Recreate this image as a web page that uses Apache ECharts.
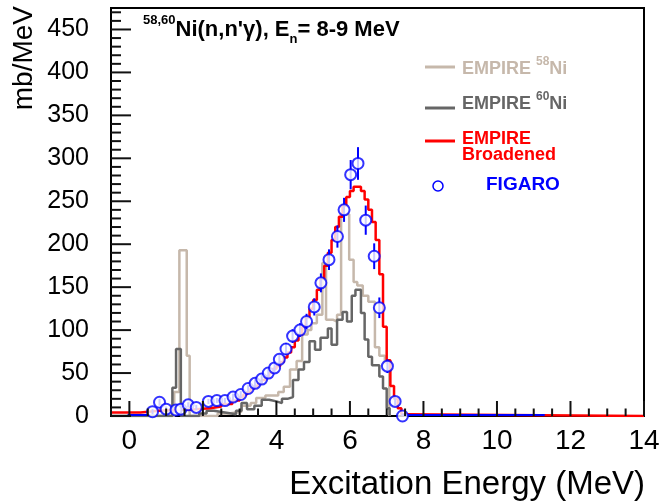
<!DOCTYPE html>
<html>
<head>
<meta charset="utf-8">
<script src="https://cdn.jsdelivr.net/npm/echarts@6/dist/echarts.min.js"></script>
<style>
  html, body { margin: 0; padding: 0; background: #fff; }
  #main { width: 664px; height: 501px; }
</style>
</head>
<body>
<div id="main"></div>
<script>
// EMPIRE 58Ni : bin lower edge (MeV) / mb/MeV
let ni58E = [-0.5, 1.22, 1.36, 1.56, 1.64, 2.4, 2.7, 3.05, 3.3, 3.45,
  3.7, 4.05, 4.2, 4.37, 4.55, 4.7, 4.85, 4.95, 5.1, 5.25,
  5.35, 5.55, 5.65, 5.76, 5.98, 6.1, 6.2, 6.35, 6.5, 6.68,
  6.8, 6.95, 7.07]
let ni58V = [0, 28, 193, 70, 0, 3, 5, 12, 15, 21,
  24, 28, 34, 54, 64, 95, 100, 108, 118, 178,
  112, 110, 118, 235, 182, 156, 152, 140, 133, 80,
  70, 62, 0]

// EMPIRE 60Ni
let ni60E = [-0.5, 1.17, 1.27, 1.4, 1.9, 2.1, 2.3, 2.6, 2.9, 3.05,
  3.2, 3.4, 3.6, 3.8, 4.0, 4.15, 4.3, 4.45, 4.6, 4.75,
  4.9, 5.05, 5.2, 5.4, 5.5, 5.65, 5.8, 5.92, 6.05, 6.15,
  6.3, 6.4, 6.5, 6.6, 6.8, 6.9, 7.0, 7.08]
let ni60V = [0, 33, 78, 0, 3, 6, 4, 2, 6, 15,
  8, 12, 19, 17, 15, 20, 22, 42, 54, 63,
  87, 77, 91, 102, 83, 112, 121, 110, 140, 147,
  120, 89, 69, 59, 46, 32, 9, 0]

// EMPIRE broadened
let broadE = [-0.5, 0.3, 0.8, 1.3, 1.8, 2.2, 2.5, 2.8,
  3.0, 3.1, 3.2, 3.3, 3.4, 3.5, 3.6, 3.7, 3.8, 3.9,
  4.0, 4.1, 4.2, 4.3, 4.4, 4.5, 4.6, 4.7, 4.8, 4.9,
  5.0, 5.1, 5.2, 5.3, 5.4, 5.5, 5.6, 5.7, 5.8, 5.9,
  6.0, 6.1, 6.2, 6.3, 6.4, 6.5, 6.6, 6.7, 6.8, 6.9,
  7.0, 7.1, 7.2, 7.3, 7.4, 7.5, 14]
let broadV = [4, 6, 7, 8, 9, 11, 14, 18,
  22, 25, 28, 32, 35, 38, 42, 46, 50, 55,
  58, 63, 68, 74, 80, 88, 95, 104, 115, 125,
  135, 147, 160, 175, 190, 205, 220, 232, 245, 255,
  262, 267, 267, 262, 252, 240, 226, 205, 165, 104,
  65, 35, 20, 9, 2, 0, 0]

// FIGARO points
let figE = [0.63, 0.82, 1.0, 1.27, 1.4, 1.6, 1.82, 2.15, 2.38, 2.6,
  2.82, 3.03, 3.23, 3.42, 3.6, 3.78, 3.95, 4.08, 4.26, 4.44,
  4.64, 4.82, 5.03, 5.21, 5.43, 5.66, 5.84, 6.02, 6.22, 6.43,
  6.66, 6.8, 7.02, 7.23, 7.43]
let figV = [5, 16, 8, 7, 8, 13, 10, 17, 18, 18,
  22, 25, 32, 38, 43, 50, 56, 66, 78, 93,
  100, 110, 127, 155, 182, 209, 240, 281, 294, 228,
  186, 126, 58, 17, 0]
let figErr = [3, 4, 3, 3, 3, 3, 3, 3, 3, 3,
  4, 4, 4, 5, 5, 5, 6, 6, 7, 8,
  8, 9, 10, 11, 12, 13, 14, 17, 19, 17,
  15, 12, 8, 5, 3]
// zero-valued FIGARO bins: [from, to] in MeV
let figZeroFrom = [-0.05, 7.45]
let figZeroTo = [0.55, 11.3]

// tick labels
let xMajor = [0, 2, 4, 6, 8, 10, 12, 14]
let yMajor = [0, 50, 100, 150, 200, 250, 300, 350, 400, 450]

const FONT = 'Liberation Sans'
const BEIGE = '#c6b8ab'
const GREY = '#666666'
const TICK = '#111111'

function steps (edges, vals) {
  let d = []
  for (let i = 0; i < edges.length; i++) {
    d.push([edges[i], vals[i]])
  }
  return d
}

var myChart = echarts.init(document.getElementById('main'))

let grid = {
  left: 111, right: 20, top: 8, bottom: 85,
  show: true, borderColor: '#000', borderWidth: 2
}
let xAxis = {
  type: 'value', min: -0.5, max: 14,
  axisLine: { show: false, onZero: false },
  axisTick: { show: false }, axisLabel: { show: false }, splitLine: { show: false }
}
let yAxis = {
  type: 'value', min: 0, max: 475,
  axisLine: { show: false, onZero: false },
  axisTick: { show: false }, axisLabel: { show: false }, splitLine: { show: false }
}

// axes only first, so the scales can be used to place ticks and labels
myChart.setOption({ animation: false, grid: grid, xAxis: xAxis, yAxis: yAxis })

function px (x, y) {
  return myChart.convertToPixel({ gridIndex: 0 }, [x, y])
}

let axisEls = []
// ticks as thin filled rects
function vtick (x, y, len) {
  axisEls.push({ type: 'rect', z: 50, shape: { x: x - 1, y: y - len, width: 2, height: len }, style: { fill: TICK } })
}
function htick (x, y, len) {
  axisEls.push({ type: 'rect', z: 50, shape: { x: x, y: y - 1, width: len, height: 2 }, style: { fill: TICK } })
}
xMajor.forEach((v) => {
  let p = px(v, 0)
  vtick(p[0], p[1], 15)
  axisEls.push({
    type: 'text', x: p[0], y: p[1] + 25,
    style: { text: String(v), fill: '#000', font: '28px "Liberation Sans"', align: 'center', verticalAlign: 'middle' }
  })
  // minor ticks every 0.5 MeV
  ;[-0.5, 0.5, 1, 1.5].forEach((k) => {
    let m = v + k
    if (m >= -0.5 && m < 14 && !(v > 0 && k < 0)) {
      let q = px(m, 0)
      vtick(q[0], q[1], 7.5)
    }
  })
})
yMajor.forEach((v) => {
  let p = px(-0.5, v)
  htick(p[0], p[1], 20)
  axisEls.push({
    type: 'text', x: p[0] - 22, y: p[1],
    style: { text: String(v), fill: '#000', font: '25px "Liberation Sans"', align: 'right', verticalAlign: 'middle' }
  })
  // minor ticks every 10
  ;[10, 20, 30, 40].forEach((k) => {
    if (v + k < 475) {
      let q = px(-0.5, v + k)
      htick(q[0], q[1], 10)
    }
  })
})

let figData = figE.map((e, i) => [e, figV[i], figErr[i]])
let zeroData = figZeroFrom.map((a, i) => [a, 0, figZeroTo[i]])

let graphics = [
  // title
  {
    type: 'text', x: 143, y: 30,
    style: {
      text: '{sup|58,60}{b|Ni(n,n\'γ), E}{sub|n}{b|= 8-9 MeV}',
      fill: '#000', align: 'left', verticalAlign: 'middle',
      rich: {
        b: { fontFamily: FONT, fontSize: 22, fontWeight: 'bold', lineHeight: 32, verticalAlign: 'middle' },
        sup: { fontFamily: FONT, fontSize: 13, fontWeight: 'bold', lineHeight: 10, verticalAlign: 'top' },
        sub: { fontFamily: FONT, fontSize: 13, fontWeight: 'bold', lineHeight: 18, verticalAlign: 'bottom' }
      }
    }
  },
  // legend
  { type: 'line', shape: { x1: 425, y1: 67, x2: 455, y2: 67 }, style: { stroke: BEIGE, lineWidth: 3 } },
  {
    type: 'text', x: 462, y: 69,
    style: {
      text: '{b|EMPIRE }{sup|58}{b|Ni}', fill: BEIGE, align: 'left', verticalAlign: 'middle',
      rich: {
        b: { fontFamily: FONT, fontSize: 18, fontWeight: 'bold', lineHeight: 26, verticalAlign: 'middle' },
        sup: { fontFamily: FONT, fontSize: 12, fontWeight: 'bold', lineHeight: 12, verticalAlign: 'top' }
      }
    }
  },
  { type: 'line', shape: { x1: 425, y1: 108, x2: 455, y2: 108 }, style: { stroke: GREY, lineWidth: 3 } },
  {
    type: 'text', x: 462, y: 104,
    style: {
      text: '{b|EMPIRE }{sup|60}{b|Ni}', fill: GREY, align: 'left', verticalAlign: 'middle',
      rich: {
        b: { fontFamily: FONT, fontSize: 18, fontWeight: 'bold', lineHeight: 26, verticalAlign: 'middle' },
        sup: { fontFamily: FONT, fontSize: 12, fontWeight: 'bold', lineHeight: 12, verticalAlign: 'top' }
      }
    }
  },
  { type: 'line', shape: { x1: 425, y1: 141, x2: 455, y2: 141 }, style: { stroke: '#ff0000', lineWidth: 3 } },
  {
    type: 'text', x: 462, y: 139,
    style: { text: 'EMPIRE', fill: '#ff0000', font: 'bold 18px "Liberation Sans"', align: 'left', verticalAlign: 'middle' }
  },
  {
    type: 'text', x: 462, y: 155,
    style: { text: 'Broadened', fill: '#ff0000', font: 'bold 18px "Liberation Sans"', align: 'left', verticalAlign: 'middle' }
  },
  { type: 'circle', shape: { cx: 438, cy: 186, r: 5 }, style: { stroke: '#0000ff', fill: '#fff', lineWidth: 1.5 } },
  {
    type: 'text', x: 486, y: 185,
    style: { text: 'FIGARO', fill: '#0000ff', font: 'bold 19px "Liberation Sans"', align: 'left', verticalAlign: 'middle' }
  },
  // axis titles
  {
    type: 'text', x: 24, y: 6, rotation: Math.PI / 2,
    style: { text: 'mb/MeV', fill: '#000', font: '28px "Liberation Sans"', align: 'right', verticalAlign: 'middle' }
  },
  {
    type: 'text', x: 645, y: 485,
    style: { text: 'Excitation Energy (MeV)', fill: '#000', font: '33px "Liberation Sans"', align: 'right', verticalAlign: 'middle' }
  }
]

let option = {
  animation: false,
  backgroundColor: '#fff',
  grid: grid,
  xAxis: xAxis,
  yAxis: yAxis,
  series: [
    {
      name: 'EMPIRE 58Ni',
      type: 'line', step: 'end', showSymbol: false,
      data: steps(ni58E, ni58V),
      lineStyle: { color: BEIGE, width: 2.5 },
      z: 2
    },
    {
      name: 'EMPIRE 60Ni',
      type: 'line', step: 'end', showSymbol: false,
      data: steps(ni60E, ni60V),
      lineStyle: { color: GREY, width: 2.5 },
      z: 3
    },
    {
      name: 'EMPIRE Broadened',
      type: 'line', step: 'end', showSymbol: false,
      data: steps(broadE, broadV),
      lineStyle: { color: '#ff0000', width: 2.5 },
      z: 4
    },
    {
      // FIGARO zero bins
      type: 'custom',
      data: zeroData,
      encode: { x: 0, y: 1 },
      clip: false,
      z: 5,
      renderItem: function (params, api) {
        let a = api.coord([api.value(0), 0])
        let b = api.coord([api.value(2), 0])
        return {
          type: 'line',
          shape: { x1: a[0], y1: a[1] - 1, x2: b[0], y2: b[1] - 1 },
          style: { stroke: '#0000ff', lineWidth: 2 }
        }
      }
    },
    {
      // error bars
      type: 'custom',
      data: figData,
      encode: { x: 0, y: 1 },
      z: 6,
      renderItem: function (params, api) {
        let e = api.value(0), v = api.value(1), err = api.value(2)
        let lo = api.coord([e, Math.max(0, v - err)])
        let hi = api.coord([e, v + err])
        return {
          type: 'line',
          shape: { x1: lo[0], y1: lo[1], x2: hi[0], y2: hi[1] },
          style: { stroke: '#0000ff', lineWidth: 2 }
        }
      }
    },
    {
      name: 'FIGARO',
      type: 'scatter',
      data: figData.map(d => [d[0], d[1]]),
      symbol: 'emptyCircle', symbolSize: 11,
      itemStyle: { color: '#0000ff', borderWidth: 1.5 },
      z: 7
    }
  ],
  graphic: axisEls.concat(graphics)
}

myChart.setOption(option)
</script>
</body>
</html>
